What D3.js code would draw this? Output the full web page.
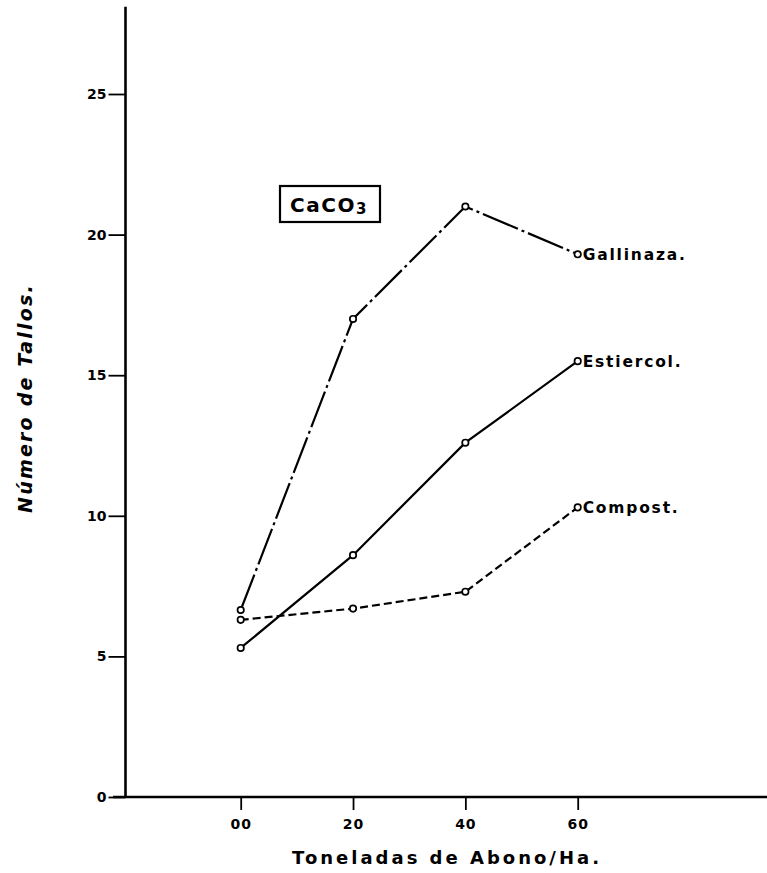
<!DOCTYPE html>
<html>
<head>
<meta charset="utf-8">
<script src="https://cdn.jsdelivr.net/npm/d3@7"></script>
<style>
  html, body { margin: 0; padding: 0; background: #fff; }
  svg { display: block; }
  text { font-family: "DejaVu Sans", "Liberation Sans", sans-serif; fill: #000; }
</style>
</head>
<body>
<svg id="chart" width="767" height="873"></svg>
<script>
// ---- data ----
const doses = [0, 20, 40, 60];                 // Toneladas de abono / Ha
const gallinaza = [6.65, 17.0, 21.0, 19.3];
const estiercol = [5.3, 8.6, 12.6, 15.5];
const compost   = [6.3, 6.7, 7.3, 10.3];
const seriesNames = ["Gallinaza.", "Estiercol.", "Compost."];
const xTicks = [0, 20, 40, 60];
const xTickLabels = ["00", "20", "40", "60"];
const yTicks = [0, 5, 10, 15, 20, 25];

const series = [
  { name: seriesNames[0], values: gallinaza, dash: "38,4,3,4" },
  { name: seriesNames[1], values: estiercol, dash: null },
  { name: seriesNames[2], values: compost,   dash: "8,4" }
];

const svg = d3.select("#chart");
const x = d3.scaleLinear().domain([0, 60]).range([240.7, 577.7]);
const y = d3.scaleLinear().domain([0, 25]).range([797, 94]);

// axes lines
const axisColor = "#000";
svg.append("line").attr("x1", 125.5).attr("x2", 125.5)
  .attr("y1", y(0)).attr("y2", y(28.1))
  .attr("stroke", axisColor).attr("stroke-width", 2.6);
svg.append("line").attr("x1", 113).attr("x2", 767)
  .attr("y1", y(0)).attr("y2", y(0))
  .attr("stroke", axisColor).attr("stroke-width", 2.6);

// y axis ticks
const yAxis = svg.append("g").attr("transform", "translate(125.5,0)")
  .call(d3.axisLeft(y).tickValues(yTicks).tickSize(17).tickPadding(2).tickSizeOuter(0));
yAxis.select(".domain").remove();
yAxis.selectAll("line").attr("stroke", "#000").attr("stroke-width", 1.8);
yAxis.selectAll("text")
  .style("font-family", "'DejaVu Sans', sans-serif")
  .style("font-weight", "bold").style("font-size", "14px")
  .attr("fill", "#000");

// x axis ticks
const xAxis = svg.append("g").attr("transform", `translate(0,${y(0)})`)
  .call(d3.axisBottom(x).tickValues(xTicks)
    .tickFormat((d, i) => xTickLabels[i]).tickSize(13).tickSizeOuter(0));
xAxis.select(".domain").remove();
xAxis.selectAll("line").attr("stroke", "#000").attr("stroke-width", 1.8);
xAxis.selectAll("text")
  .attr("y", 32).attr("dy", "0")
  .style("font-family", "'DejaVu Sans', sans-serif")
  .style("font-weight", "bold").style("font-size", "14px")
  .style("letter-spacing", "1px")
  .attr("fill", "#000");

// axis titles
svg.append("text")
  .attr("x", 447).attr("y", 864)
  .attr("text-anchor", "middle")
  .style("font-size", "18px").style("font-weight", "bold")
  .style("letter-spacing", "3px")
  .text("Toneladas de Abono/Ha.");

svg.append("text")
  .attr("transform", "translate(32,398) rotate(-90)")
  .attr("text-anchor", "middle")
  .style("font-size", "19px").style("font-weight", "bold")
  .style("font-style", "italic")
  .style("letter-spacing", "2.2px")
  .text("Número de Tallos.");

// lines
const line = d3.line().x((d, i) => x(doses[i])).y(d => y(d));
series.forEach(s => {
  svg.append("path")
    .datum(s.values)
    .attr("d", line)
    .attr("fill", "none")
    .attr("stroke", "#000")
    .attr("stroke-width", 2.2)
    .attr("stroke-dasharray", s.dash);
  svg.selectAll(null).data(s.values).enter().append("circle")
    .attr("cx", (d, i) => x(doses[i]))
    .attr("cy", d => y(d))
    .attr("r", 3.2)
    .attr("fill", "#fff")
    .attr("stroke", "#000")
    .attr("stroke-width", 1.7);
  const last = s.values[s.values.length - 1];
  svg.append("text")
    .attr("x", x(60) + 5).attr("y", y(last))
    .attr("dy", "0.36em")
    .style("font-size", "15.5px").style("font-weight", "bold")
    .style("letter-spacing", "1.8px")
    .text(s.name);
});

// CaCO3 box
const box = svg.append("g").attr("transform", "translate(280,186)");
box.append("rect").attr("width", 100).attr("height", 36)
  .attr("fill", "#fff").attr("stroke", "#000").attr("stroke-width", 2.2);
const t = box.append("text").attr("x", 49).attr("y", 26).attr("text-anchor", "middle")
  .style("font-size", "20px").style("font-weight", "bold").style("letter-spacing", "1.5px");
t.append("tspan").text("CaCO");
t.append("tspan").attr("dy", 2).style("font-size", "15px").text("3");
</script>
</body>
</html>
